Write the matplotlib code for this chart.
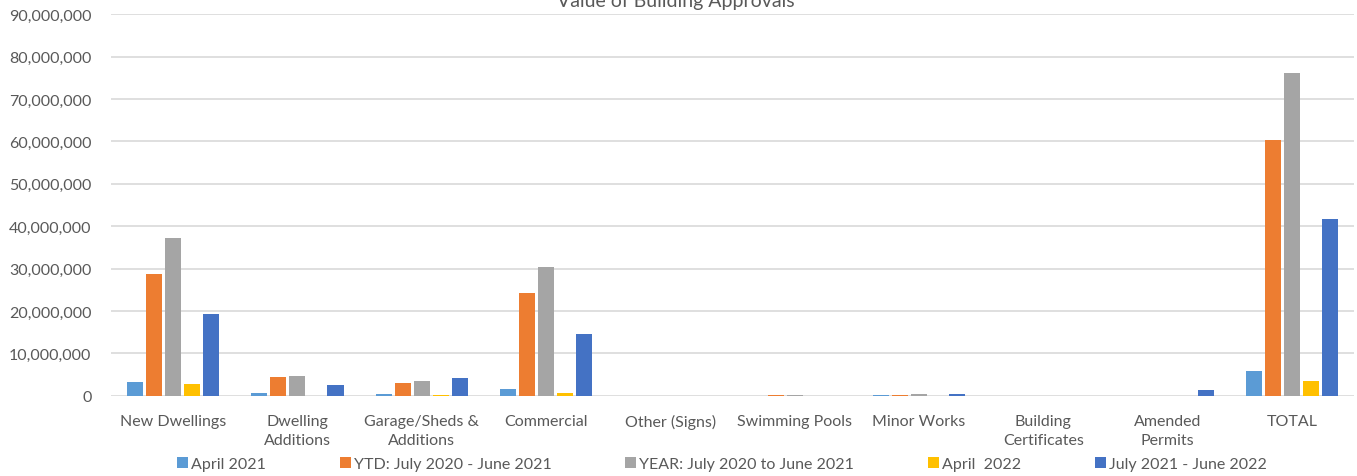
import numpy as np
import matplotlib.pyplot as plt

categories = ["New Dwellings", "Dwelling\nAdditions", "Garage/Sheds &\nAdditions", "Commercial",
              "Other (Signs)", "Swimming Pools", "Minor Works", "Building\nCertificates",
              "Amended\nPermits", "TOTAL"]

series_names = ["April 2021", "YTD: July 2020 - June 2021", "YEAR: July 2020 to June 2021",
                "April  2022", "July 2021 - June 2022"]

april_2021 = [3200000, 600000, 400000, 1600000, 0, 0, 100000, 0, 0, 5800000]
ytd_2020_21 = [28700000, 4400000, 3000000, 24200000, 50000, 100000, 100000, 0, 0, 60300000]
year_2020_21 = [37200000, 4600000, 3500000, 30400000, 50000, 100000, 350000, 0, 0, 76100000]
april_2022 = [2800000, 0, 100000, 600000, 0, 0, 50000, 0, 0, 3500000]
fy_2021_22 = [19300000, 2500000, 4200000, 14600000, 0, 0, 400000, 0, 1300000, 41700000]

values = [april_2021, ytd_2020_21, year_2020_21, april_2022, fy_2021_22]
colors = ["#5B9BD5", "#ED7D31", "#A5A5A5", "#FFC000", "#4472C4"]

plt.rcParams['font.family'] = ['Lato', 'DejaVu Sans']
txt = "#595959"

fig = plt.figure(figsize=(13.57, 4.77), dpi=100)
ax = fig.add_axes([0.0818, 0.168, 0.916, 0.8])

x = np.arange(len(categories))
step = 0.153
width = 0.129
for i, (vals, name, c) in enumerate(zip(values, series_names, colors)):
    ax.bar(x + (i - 2) * step, vals, width, color=c, label=name, zorder=3)

ax.set_xlim(-0.5, len(categories) - 0.5)
ax.set_ylim(0, 90000000)
ax.set_yticks(np.arange(0, 90000001, 10000000))
ax.yaxis.set_major_formatter(plt.FuncFormatter(lambda v, p: f"{int(v):,}"))
ax.set_xticks(x)
ax.set_xticklabels(categories, linespacing=1.45)
ax.tick_params(axis='both', length=0, labelsize=11.5, colors=txt)
ax.tick_params(axis='x', pad=13)
ax.tick_params(axis='y', pad=14)
ax.grid(axis='y', color="#D9D9D9", linewidth=1.2, zorder=0)
for s in ax.spines.values():
    s.set_visible(False)

fig.text(0.498, 0.997, "Value of Building Approvals", ha='center', va='center',
         fontsize=14, color=txt)

leg = fig.legend(loc='center', bbox_to_anchor=(0.532, 0.025), ncol=5, frameon=False,
                 handlelength=0.7, handleheight=0.7, handletextpad=0.2, columnspacing=4.6,
                 fontsize=11.5)
for t in leg.get_texts():
    t.set_color(txt)

fig.savefig("out.png", dpi=100)
